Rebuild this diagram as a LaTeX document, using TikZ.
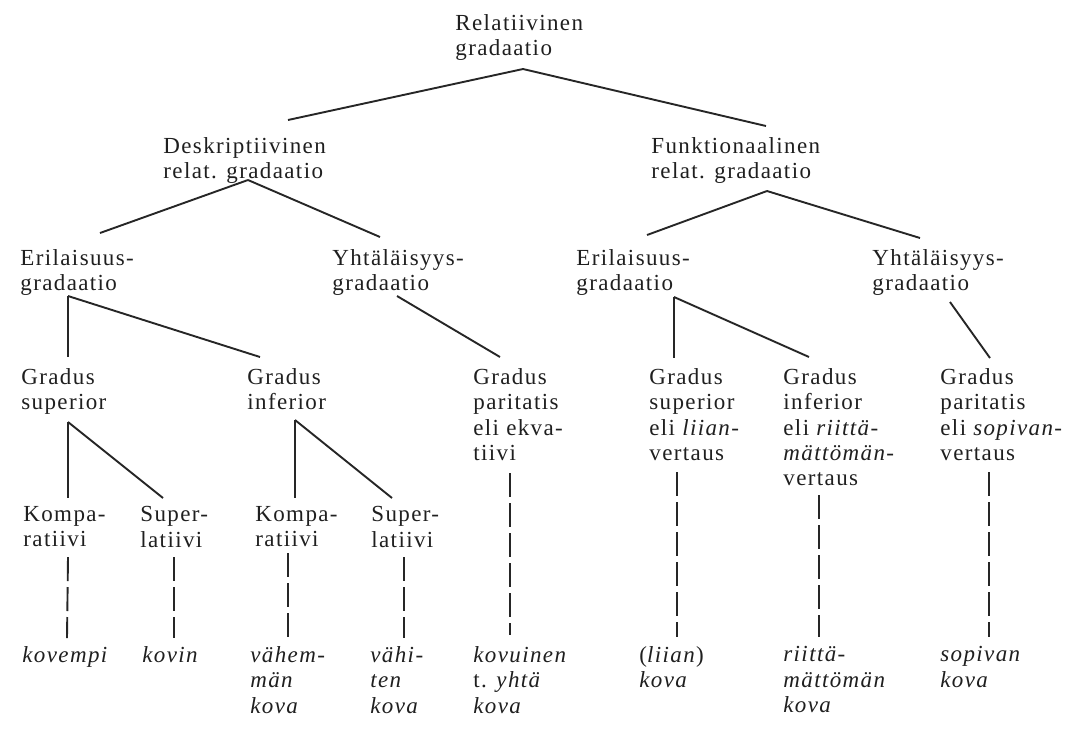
\documentclass[tikz,border=0pt]{standalone}
\usepackage{fontspec}
\setmainfont{Liberation Serif}[LetterSpace=6]
\usepackage{tikz}

\begin{document}
\begin{tikzpicture}[x=0.5pt, y=-0.5pt]
\def\termfont{\fontsize{11.5}{12.7}\selectfont}
\def\branchwidth{0.95pt}
\tikzset{
  term/.style={anchor=north west, inner sep=0pt, align=left, font=\termfont, text=black!88},
  example/.style={term, font=\termfont\itshape},
  branch/.style={line width=\branchwidth, black!85},
  dashbranch/.style={branch, dash pattern=on 12pt off 3pt}
}
\useasboundingbox (0,0) rectangle (1077,730);

% LEVEL 0 AND 1
\node[term] (root) at (455, 14) {Relatiivinen\\gradaatio};
\node[term] (desk) at (163, 137) {Deskriptiivinen\\relat. gradaatio};
\node[term] (funk) at (651, 137) {Funktionaalinen\\relat. gradaatio};

% LEVEL 2
\node[term] (eriD) at (20, 249) {Erilaisuus-\\gradaatio};
\node[term] (yhtD) at (332, 249) {Yhtäläisyys-\\gradaatio};
\node[term] (eriF) at (576, 249) {Erilaisuus-\\gradaatio};
\node[term] (yhtF) at (872, 249) {Yhtäläisyys-\\gradaatio};

% LEVEL 3
\node[term] (gsupD) at (21, 368) {Gradus\\superior};
\node[term] (ginfD) at (247, 368) {Gradus\\inferior};
\node[term] (gparD) at (473, 368) {Gradus\\paritatis\\eli ekva-\\tiivi};
\node[term] (gsupF) at (649, 368) {Gradus\\superior\\eli \textit{liian}-\\vertaus};
\node[term] (ginfF) at (783, 368) {Gradus\\inferior\\eli \textit{riittä-}\\\textit{mättömän}-\\vertaus};
\node[term] (gparF) at (940, 368) {Gradus\\paritatis\\eli \textit{sopivan}-\\vertaus};

% LEVEL 4
\node[term] (kompD) at (23, 506) {Kompa-\\ratiivi};
\node[term] (supD) at (140, 506) {Super-\\latiivi};
\node[term] (kompI) at (255, 506) {Kompa-\\ratiivi};
\node[term] (supI) at (371, 506) {Super-\\latiivi};

% EXAMPLES
\node[example] (kovempi) at (22, 646) {kovempi};
\node[example] (kovin) at (142, 646) {kovin};
\node[example] (vahem) at (250, 646) {vähem-\\män\\kova};
\node[example] (vahi) at (370, 646) {vähi-\\ten\\kova};
\node[example] (kovuinen) at (473, 646) {kovuinen\\\textup{t.} yhtä\\kova};
\node[example] (liian) at (639, 646) {\textup{(}liian\textup{)}\\kova};
\node[example] (riitta) at (783, 646) {riittä-\\mättömän\\kova};
\node[example] (sopivan) at (940, 646) {sopivan\\kova};

% SOLID BRANCHES
\draw[branch] ([shift={(68,55)}]root.north west) -- ([shift={(125,-17)}]desk.north west);
\draw[branch] ([shift={(68,55)}]root.north west) -- ([shift={(115,-11)}]funk.north west);
\draw[branch] ([shift={(85,43)}]desk.north west) -- ([shift={(80,-16)}]eriD.north west);
\draw[branch] ([shift={(85,43)}]desk.north west) -- ([shift={(48,-12)}]yhtD.north west);
\draw[branch] ([shift={(116,54)}]funk.north west) -- ([shift={(71,-14)}]eriF.north west);
\draw[branch] ([shift={(116,54)}]funk.north west) -- ([shift={(48,-11)}]yhtF.north west);
\draw[branch] ([shift={(48,47)}]eriD.north west) -- ([shift={(47,-11)}]gsupD.north west);
\draw[branch] ([shift={(48,47)}]eriD.north west) -- ([shift={(13,-11)}]ginfD.north west);
\draw[branch] ([shift={(65,47)}]yhtD.north west) -- ([shift={(27,-11)}]gparD.north west);
\draw[branch] ([shift={(98,48)}]eriF.north west) -- ([shift={(25,-10)}]gsupF.north west);
\draw[branch] ([shift={(98,48)}]eriF.north west) -- ([shift={(26,-11)}]ginfF.north west);
\draw[branch] ([shift={(78,53)}]yhtF.north west) -- ([shift={(50,-10)}]gparF.north west);
\draw[branch] ([shift={(47,54)}]gsupD.north west) -- ([shift={(45,-8)}]kompD.north west);
\draw[branch] ([shift={(47,54)}]gsupD.north west) -- ([shift={(23,-8)}]supD.north west);
\draw[branch] ([shift={(48,52)}]ginfD.north west) -- ([shift={(40,-8)}]kompI.north west);
\draw[branch] ([shift={(48,52)}]ginfD.north west) -- ([shift={(21,-8)}]supI.north west);

% DASHED BRANCHES
\draw[dashbranch] ([shift={(45,51)}]kompD.north west) -- ([shift={(45,-8)}]kovempi.north west);
\draw[dashbranch] ([shift={(34,51)}]supD.north west) -- ([shift={(32,-8)}]kovin.north west);
\draw[dashbranch] ([shift={(33,47)}]kompI.north west) -- ([shift={(38,-8)}]vahem.north west);
\draw[dashbranch] ([shift={(33,51)}]supI.north west) -- ([shift={(34,-8)}]vahi.north west);
\draw[dashbranch] ([shift={(37,105)}]gparD.north west) -- ([shift={(37,-11)}]kovuinen.north west);
\draw[dashbranch] ([shift={(28,104)}]gsupF.north west) -- ([shift={(38,-9)}]liian.north west);
\draw[dashbranch] ([shift={(36,127)}]ginfF.north west) -- ([shift={(36,-9)}]riitta.north west);
\draw[dashbranch] ([shift={(49,104)}]gparF.north west) -- ([shift={(49,-9)}]sopivan.north west);
\end{tikzpicture}
\end{document}
